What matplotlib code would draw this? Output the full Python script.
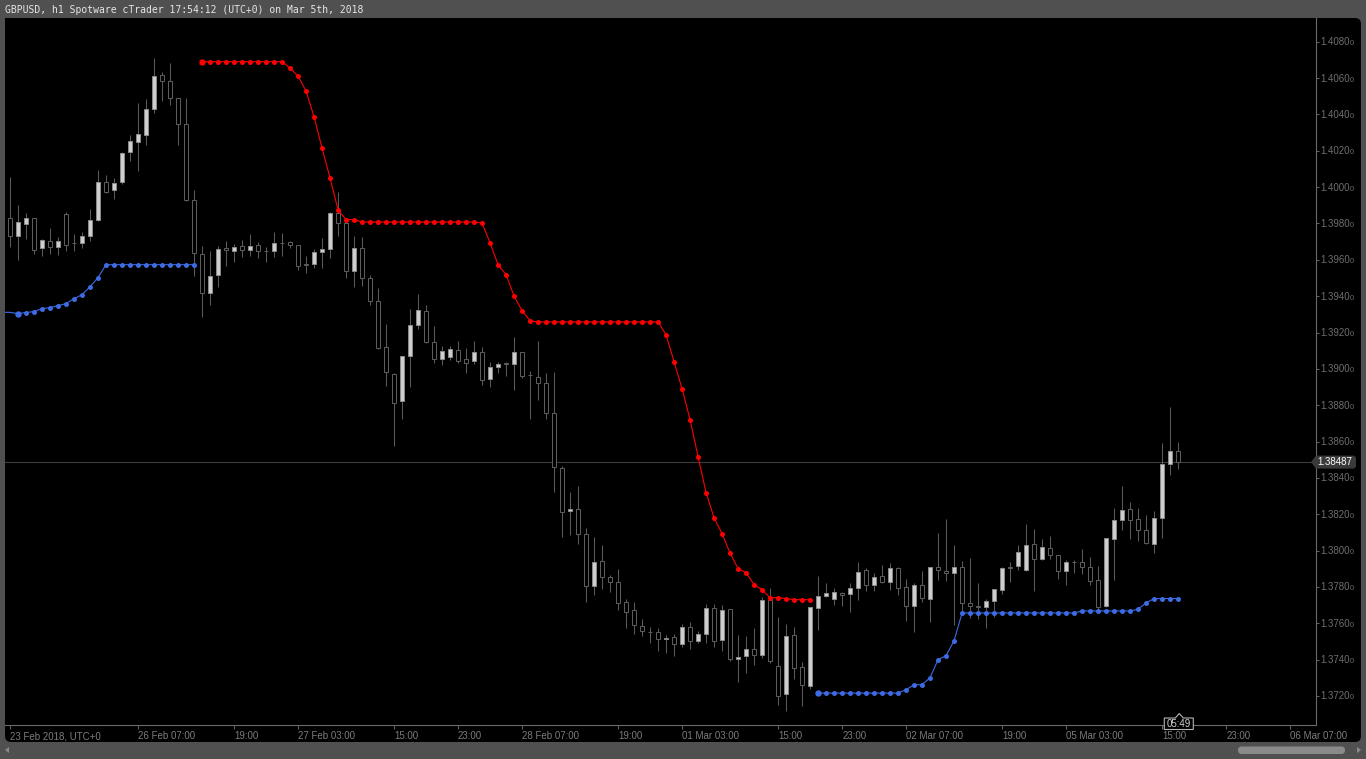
import matplotlib
matplotlib.use("Agg")
import matplotlib.pyplot as plt
import matplotlib.patches as mpatches
from matplotlib.transforms import Affine2D
import numpy as np

plt.rcParams["font.family"] = ["Liberation Sans", "DejaVu Sans"]

# --------------------------------------------------------------------------- #
#  Data — GBPUSD h1 candles (23 Feb 2018 .. 05 Mar 2018 17:00), bar index 0..146
# --------------------------------------------------------------------------- #
opens = [
    1.39828, 1.39733, 1.39799, 1.39828, 1.39663, 1.39702, 1.39669, 1.39852, 1.39692, 1.39690,
    1.39729, 1.39817, 1.40026, 1.39982, 1.40026, 1.40191, 1.40250, 1.40284, 1.40428, 1.40615,
    1.40582, 1.40488, 1.40345, 1.39928, 1.39630, 1.39415, 1.39514, 1.39663, 1.39647, 1.39674,
    1.39652, 1.39680, 1.39650, 1.39647, 1.39693, 1.39698, 1.39680, 1.39575, 1.39575, 1.39641,
    1.39658, 1.39856, 1.39804, 1.39536, 1.39663, 1.39498, 1.39375, 1.39118, 1.38972, 1.38821,
    1.39070, 1.39239, 1.39316, 1.39150, 1.39052, 1.39067, 1.39102, 1.39054, 1.39041, 1.39091,
    1.38942, 1.39008, 1.39030, 1.39025, 1.39091, 1.38968, 1.38957, 1.38920, 1.38755, 1.38453,
    1.38216, 1.38227, 1.38090, 1.37807, 1.37941, 1.37855, 1.37825, 1.37715, 1.37671, 1.37583,
    1.37550, 1.37550, 1.37512, 1.37523, 1.37484, 1.37578, 1.37501, 1.37539, 1.37682, 1.37506,
    1.37677, 1.37402, 1.37418, 1.37457, 1.37424, 1.37726, 1.37363, 1.37209, 1.37534, 1.37358,
    1.37253, 1.37682, 1.37748, 1.37732, 1.37765, 1.37759, 1.37792, 1.37891, 1.37809, 1.37858,
    1.37825, 1.37902, 1.37798, 1.37693, 1.37809, 1.37732, 1.37908, 1.37886, 1.37875, 1.37908,
    1.37710, 1.37693, 1.37688, 1.37721, 1.37781, 1.37908, 1.37913, 1.37891, 1.38034, 1.37952,
    1.38012, 1.37974, 1.37886, 1.37940, 1.37935, 1.37908, 1.37836, 1.37693, 1.38062, 1.38166,
    1.38227, 1.38172, 1.38111, 1.38034, 1.38178, 1.38477, 1.38550,
]
highs = [
    1.40057, 1.39902, 1.39858, 1.39832, 1.39715, 1.39775, 1.39724, 1.39861, 1.39742, 1.39751,
    1.39879, 1.40094, 1.40066, 1.40048, 1.40195, 1.40286, 1.40462, 1.40483, 1.40710, 1.40633,
    1.40682, 1.40490, 1.40488, 1.39984, 1.39674, 1.39650, 1.39677, 1.39703, 1.39687, 1.39709,
    1.39740, 1.39698, 1.39672, 1.39751, 1.39746, 1.39703, 1.39682, 1.39621, 1.39658, 1.39718,
    1.39861, 1.39971, 1.39823, 1.39731, 1.39724, 1.39518, 1.39443, 1.39247, 1.38975, 1.39072,
    1.39327, 1.39412, 1.39351, 1.39236, 1.39126, 1.39126, 1.39153, 1.39113, 1.39153, 1.39120,
    1.39039, 1.39036, 1.39036, 1.39175, 1.39093, 1.38990, 1.39155, 1.38975, 1.38983, 1.38466,
    1.38322, 1.38356, 1.38122, 1.38075, 1.38031, 1.37864, 1.37899, 1.37734, 1.37715, 1.37622,
    1.37578, 1.37572, 1.37536, 1.37541, 1.37596, 1.37607, 1.37558, 1.37706, 1.37706, 1.37699,
    1.37680, 1.37536, 1.37530, 1.37574, 1.37743, 1.37792, 1.37635, 1.37596, 1.37578, 1.37387,
    1.37690, 1.37860, 1.37822, 1.37794, 1.37770, 1.37820, 1.37935, 1.37902, 1.37875, 1.37919,
    1.37930, 1.37908, 1.37842, 1.37820, 1.37886, 1.37910, 1.38097, 1.38172, 1.38031, 1.37943,
    1.37957, 1.37820, 1.37736, 1.37790, 1.37908, 1.37937, 1.38029, 1.38144, 1.38117, 1.38062,
    1.38080, 1.37976, 1.37946, 1.37946, 1.38007, 1.37963, 1.37913, 1.38067, 1.38232, 1.38355,
    1.38266, 1.38232, 1.38194, 1.38216, 1.38594, 1.38788, 1.38598,
]
lows = [
    1.39672, 1.39599, 1.39715, 1.39634, 1.39623, 1.39634, 1.39626, 1.39648, 1.39648, 1.39663,
    1.39705, 1.39812, 1.39967, 1.39936, 1.40015, 1.40145, 1.40090, 1.40233, 1.40409, 1.40473,
    1.40453, 1.40233, 1.39925, 1.39512, 1.39287, 1.39353, 1.39452, 1.39567, 1.39590, 1.39614,
    1.39621, 1.39610, 1.39590, 1.39617, 1.39621, 1.39665, 1.39544, 1.39529, 1.39553, 1.39557,
    1.39612, 1.39733, 1.39500, 1.39452, 1.39458, 1.39351, 1.39109, 1.38907, 1.38577, 1.38726,
    1.38902, 1.39221, 1.39145, 1.39034, 1.39019, 1.39049, 1.39034, 1.38979, 1.39025, 1.38913,
    1.38902, 1.38975, 1.38962, 1.38885, 1.38951, 1.38726, 1.38829, 1.38722, 1.38324, 1.38073,
    1.38084, 1.38034, 1.37715, 1.37754, 1.37791, 1.37774, 1.37675, 1.37572, 1.37539, 1.37532,
    1.37493, 1.37449, 1.37435, 1.37422, 1.37471, 1.37460, 1.37493, 1.37493, 1.37471, 1.37446,
    1.37394, 1.37275, 1.37325, 1.37372, 1.37407, 1.37380, 1.37152, 1.37119, 1.37292, 1.37147,
    1.37237, 1.37563, 1.37743, 1.37702, 1.37695, 1.37664, 1.37728, 1.37780, 1.37780, 1.37820,
    1.37785, 1.37758, 1.37614, 1.37554, 1.37719, 1.37609, 1.37838, 1.37835, 1.37589, 1.37664,
    1.37627, 1.37622, 1.37572, 1.37635, 1.37759, 1.37825, 1.37891, 1.37886, 1.37780, 1.37946,
    1.37952, 1.37846, 1.37812, 1.37875, 1.37869, 1.37809, 1.37677, 1.37688, 1.37836, 1.38115,
    1.38062, 1.38055, 1.38034, 1.37985, 1.38068, 1.38414, 1.38451,
]
closes = [
    1.39733, 1.39806, 1.39828, 1.39656, 1.39707, 1.39672, 1.39702, 1.39680, 1.39692, 1.39729,
    1.39817, 1.40026, 1.39975, 1.40024, 1.40185, 1.40251, 1.40290, 1.40428, 1.40609, 1.40582,
    1.40488, 1.40345, 1.39931, 1.39635, 1.39415, 1.39509, 1.39661, 1.39652, 1.39669, 1.39652,
    1.39674, 1.39650, 1.39648, 1.39691, 1.39691, 1.39680, 1.39568, 1.39573, 1.39641, 1.39658,
    1.39856, 1.39804, 1.39536, 1.39663, 1.39498, 1.39375, 1.39116, 1.38984, 1.38814, 1.39069,
    1.39239, 1.39322, 1.39149, 1.39052, 1.39096, 1.39107, 1.39045, 1.39034, 1.39091, 1.38937,
    1.39008, 1.39027, 1.39029, 1.39091, 1.38962, 1.38966, 1.38920, 1.38755, 1.38458, 1.38214,
    1.38227, 1.38090, 1.37807, 1.37936, 1.37853, 1.37825, 1.37710, 1.37660, 1.37589, 1.37559,
    1.37550, 1.37512, 1.37521, 1.37484, 1.37578, 1.37501, 1.37539, 1.37682, 1.37501, 1.37671,
    1.37402, 1.37413, 1.37457, 1.37424, 1.37726, 1.37391, 1.37202, 1.37528, 1.37352, 1.37259,
    1.37688, 1.37748, 1.37765, 1.37770, 1.37754, 1.37792, 1.37880, 1.37809, 1.37853, 1.37825,
    1.37902, 1.37792, 1.37693, 1.37809, 1.37737, 1.37908, 1.37891, 1.37875, 1.37908, 1.37710,
    1.37693, 1.37691, 1.37721, 1.37787, 1.37902, 1.37906, 1.37990, 1.38029, 1.37952, 1.38018,
    1.37974, 1.37886, 1.37935, 1.37938, 1.37908, 1.37831, 1.37688, 1.38067, 1.38166, 1.38221,
    1.38166, 1.38111, 1.38040, 1.38177, 1.38475, 1.38550, 1.38487,
]

# trailing-stop indicator: red while short (above price), blue while long
red_start = 24
red_vals = [1.40690] * 11 + [
    1.40655, 1.40611, 1.40529, 1.40387, 1.40215, 1.40050, 1.39876, 1.39821, 1.39821,
] + [1.39808] * 15 + [
    1.39802, 1.39694, 1.39573, 1.39518, 1.39401, 1.39320, 1.39265,
] + [1.39258] * 16 + [
    1.39188, 1.39039, 1.38891, 1.38721, 1.38517, 1.38319, 1.38181, 1.38093, 1.37987,
    1.37901, 1.37879, 1.37813, 1.37785, 1.37741, 1.37741, 1.37736, 1.37730, 1.37730, 1.37730,
]
blue1_start = -1          # first value belongs to the bar just left of the view
blue1_vals = [1.39311, 1.39311, 1.39304, 1.39310, 1.39315, 1.39331, 1.39337, 1.39348,
              1.39359, 1.39386, 1.39408, 1.39452, 1.39502] + [1.39573] * 12
blue2_start = 101
blue2_vals = [1.37216] * 11 + [1.37235, 1.37262, 1.37262, 1.37301, 1.37400, 1.37422,
                               1.37504] + [1.37657] * 15 + [1.37668] * 7 + [
    1.37677, 1.37713] + [1.37736] * 4

last_price = 1.38487
y_ticks = [1.3720, 1.3740, 1.3760, 1.3780, 1.3800, 1.3820, 1.3840, 1.3860, 1.3880, 1.3900,
           1.3920, 1.3940, 1.3960, 1.3980, 1.4000, 1.4020, 1.4040, 1.4060, 1.4080]
x_tick_bars = [0, 16, 28, 36, 48, 56, 64, 76, 84, 96, 104, 112, 124, 132, 144, 152, 160]
x_tick_labels = ["23 Feb 2018, UTC+0", "26 Feb 07:00", "19:00", "27 Feb 03:00", "15:00",
                 "23:00", "28 Feb 07:00", "19:00", "01 Mar 03:00", "15:00", "23:00",
                 "02 Mar 07:00", "19:00", "05 Mar 03:00", "15:00", "23:00", "06 Mar 07:00"]
title = "GBPUSD, h1 Spotware cTrader 17:54:12 (UTC+0) on Mar 5th, 2018"
countdown = "05:49"

# --------------------------------------------------------------------------- #
#  Figure / frame
# --------------------------------------------------------------------------- #
W, H = 1366, 759
fig = plt.figure(figsize=(W / 100, H / 100), dpi=100, facecolor="#505050")
px = Affine2D().scale(1 / W, 1 / H) + fig.transFigure   # pixel coords, origin bottom-left

panel = mpatches.FancyBboxPatch((5, H - 742), 1356, 724,
                                boxstyle="round,pad=0,rounding_size=6",
                                transform=px, fc="black", ec="none", zorder=-10)
fig.add_artist(panel)

fig.text(5 / W, 1 - 10 / H, title, ha="left", va="center", fontsize=7,
         family="DejaVu Sans Mono", color="#e6e6e6")

# scrollbar + arrows in the bottom strip
fig.add_artist(mpatches.FancyBboxPatch((1238, H - 754), 107, 7.5,
                                       boxstyle="round,pad=0,rounding_size=3.7",
                                       transform=px, fc="#8a8a8a", ec="none"))
fig.add_artist(mpatches.Polygon([(5, H - 750), (9, H - 747), (9, H - 753)],
                                transform=px, fc="#8a8a8a", ec="none"))
fig.add_artist(mpatches.Polygon([(1361, H - 750), (1357, H - 747), (1357, H - 753)],
                                transform=px, fc="#8a8a8a", ec="none"))

# --------------------------------------------------------------------------- #
#  Price axes
# --------------------------------------------------------------------------- #
ax = fig.add_axes([5 / W, (H - 725) / H, 1310.7 / W, 707 / H])
ax.set_facecolor("black")
ax.set_xlim(-0.625, 163.2)
ax.set_ylim(1.370405, 1.409304)

axis_col = "#6a6a6a"
for side in ("top", "left"):
    ax.spines[side].set_visible(False)
for side in ("right", "bottom"):
    ax.spines[side].set_color(axis_col)
    ax.spines[side].set_linewidth(0.8)

ax.yaxis.tick_right()
ax.set_yticks(y_ticks)
ax.set_yticklabels([])
ax.tick_params(axis="y", length=2.2, width=0.7, color=axis_col)
for p in y_ticks:
    ax.annotate(f"{p:.4f}", xy=(1, p), xycoords=("axes fraction", "data"),
                xytext=(3.2, -2.5), textcoords="offset points", ha="left", va="baseline",
                fontsize=7, color="#6e6e6e", annotation_clip=False)
    ax.annotate("0", xy=(1, p), xycoords=("axes fraction", "data"),
                xytext=(24.6, -2.5), textcoords="offset points", ha="left", va="baseline",
                fontsize=5.3, color="#6e6e6e", annotation_clip=False)

ax.set_xticks(x_tick_bars)
ax.set_xticklabels(x_tick_labels, fontsize=7, color="#7c7c7c", ha="left")
ax.tick_params(axis="x", length=3, width=0.7, color=axis_col, pad=1.5)

# current price line
ax.axhline(last_price, color="#3c3c3c", lw=0.8, zorder=1)

# --- candles ---
o = np.array(opens)
c = np.array(closes)
idx = np.arange(len(o))
up = c > o
ax.vlines(idx, lows, highs, color="#5a5a5a", lw=0.75, zorder=2)
body_lo = np.minimum(o, c)
body_h = np.abs(c - o)
ax.bar(idx[up], body_h[up], bottom=body_lo[up], width=0.45, color="#cecece",
       edgecolor="#8a8a8a", linewidth=0.7, zorder=3)
ax.bar(idx[~up], body_h[~up], bottom=body_lo[~up], width=0.45, color="black",
       edgecolor="#5f5f5f", linewidth=0.7, zorder=3)

# --- indicator dots ---
def draw_stop(start, vals, color, skip=0):
    xs = np.arange(start, start + len(vals))
    ax.plot(xs, vals, color=color, lw=0.8, zorder=4)
    ax.plot(xs[skip:], vals[skip:], ls="none", marker="o", ms=3.6, mew=0,
            color=color, zorder=5)
    ax.plot(xs[skip], vals[skip], ls="none", marker="o", ms=4.6, mew=0,
            color=color, zorder=5)

draw_stop(red_start, red_vals, "#ff0000")
draw_stop(blue1_start, blue1_vals, "#3d6be3", skip=2)
draw_stop(blue2_start, blue2_vals, "#3d6be3")

# --- last price tag on the price axis ---
_, ly = ax.transData.transform((0, last_price))
tag = [(1311, ly), (1316, ly + 6.5), (1354, ly + 6.5), (1356, ly + 4.5),
       (1356, ly - 4.5), (1354, ly - 6.5), (1316, ly - 6.5)]
fig.add_artist(mpatches.Polygon(tag, transform=px, fc="#3a3a3a", ec="none", zorder=6))
fig.text(1335 / W, ly / H, f"{last_price:.5f}", ha="center", va="center",
         fontsize=7, color="white", zorder=7)

# --- bar countdown box under the last candle ---
cx, _ = ax.transData.transform((len(o) - 1 + 0.15, 0))
by = H - 729.5
box = [(cx - 15, by), (cx - 15, by + 11.5), (cx - 4, by + 11.5), (cx, by + 16),
       (cx + 4, by + 11.5), (cx + 14, by + 11.5), (cx + 14, by)]
fig.add_artist(mpatches.Polygon(box, closed=True, transform=px, fc="black",
                                ec="#b4b4b4", lw=0.8, zorder=6))
fig.text((cx - 0.5) / W, (by + 5.6) / H, countdown, ha="center", va="center",
         fontsize=7, color="#d2d2d2", zorder=7)

fig.savefig("out.png", dpi=100, facecolor=fig.get_facecolor())
plt.close(fig)
